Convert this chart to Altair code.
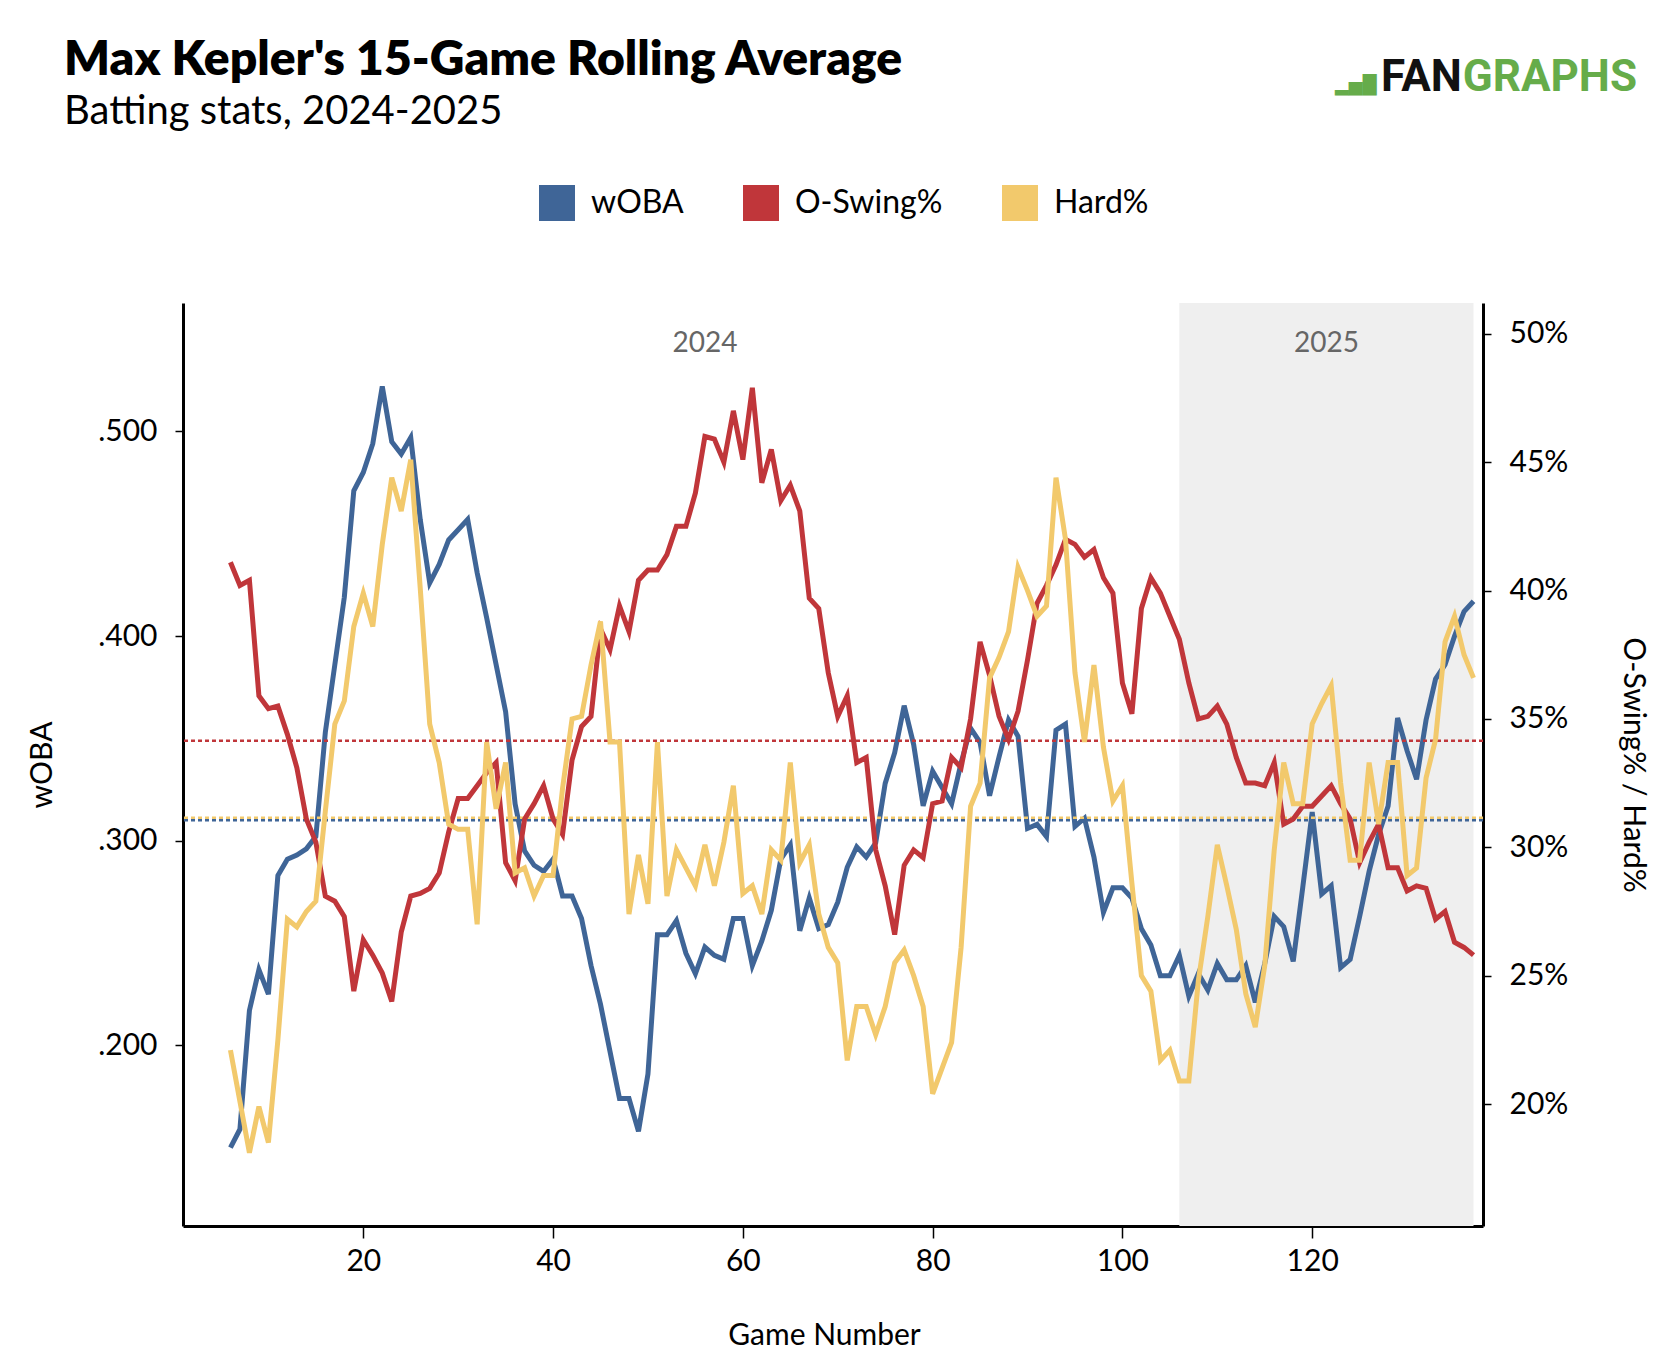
import altair as alt
import pandas as pd

# 15-game rolling values, one per game (games 6 .. 137)
games = list(range(6, 138))

woba = [
    0.150, 0.159, 0.217, 0.237, 0.225, 0.283, 0.291, 0.293, 0.296, 0.302,
    0.353, 0.386, 0.419, 0.471, 0.480, 0.494, 0.522, 0.495, 0.489, 0.497,
    0.457, 0.426, 0.435, 0.447, 0.452, 0.457, 0.431, 0.409, 0.386, 0.363,
    0.318, 0.295, 0.288, 0.285, 0.291, 0.273, 0.273, 0.262, 0.239, 0.220,
    0.197, 0.174, 0.174, 0.158, 0.186, 0.254, 0.254, 0.261, 0.245, 0.235,
    0.248, 0.244, 0.242, 0.262, 0.262, 0.239, 0.251, 0.266, 0.291, 0.298,
    0.256, 0.272, 0.257, 0.259, 0.270, 0.287, 0.297, 0.292, 0.299, 0.328,
    0.343, 0.366, 0.347, 0.317, 0.334, 0.326, 0.318, 0.338, 0.355, 0.348,
    0.322, 0.341, 0.359, 0.351, 0.306, 0.308, 0.302, 0.354, 0.357, 0.307,
    0.311, 0.292, 0.265, 0.277, 0.277, 0.272, 0.257, 0.249, 0.234, 0.234,
    0.244, 0.224, 0.235, 0.227, 0.240, 0.232, 0.232, 0.239, 0.221, 0.240,
    0.263, 0.258, 0.241, 0.277, 0.314, 0.274, 0.278, 0.238, 0.242, 0.263,
    0.285, 0.303, 0.317, 0.360, 0.344, 0.330, 0.359, 0.379, 0.386, 0.400,
    0.412, 0.417,
]

o_swing = [
    41.1, 40.2, 40.4, 35.9, 35.4, 35.5, 34.4, 33.1, 31.1, 30.2,
    28.1, 27.9, 27.3, 24.4, 26.4, 25.8, 25.1, 24.0, 26.7, 28.1,
    28.2, 28.4, 29.0, 30.6, 31.9, 31.9, 32.4, 32.9, 33.3, 29.4,
    28.7, 31.1, 31.7, 32.4, 31.1, 30.5, 33.4, 34.7, 35.1, 38.5,
    37.7, 39.4, 38.4, 40.4, 40.8, 40.8, 41.4, 42.5, 42.5, 43.8,
    46.0, 45.9, 45.0, 47.0, 45.1, 47.9, 44.2, 45.5, 43.5, 44.1,
    43.1, 39.7, 39.3, 36.8, 35.1, 35.9, 33.3, 33.5, 29.9, 28.5,
    26.6, 29.3, 29.9, 29.6, 31.7, 31.8, 33.5, 33.1, 35.0, 38.0,
    36.7, 35.1, 34.2, 35.3, 37.3, 39.5, 40.2, 41.0, 42.0, 41.8,
    41.3, 41.6, 40.5, 39.9, 36.4, 35.2, 39.3, 40.5, 39.9, 39.0,
    38.1, 36.4, 35.0, 35.1, 35.5, 34.8, 33.5, 32.5, 32.5, 32.4,
    33.3, 30.9, 31.1, 31.6, 31.6, 32.0, 32.4, 31.7, 31.1, 29.4,
    30.2, 30.9, 29.2, 29.2, 28.3, 28.5, 28.4, 27.2, 27.5, 26.3,
    26.1, 25.8,
]

hard = [
    22.1, 20.1, 18.1, 19.9, 18.5, 22.5, 27.2, 26.9, 27.5, 27.9,
    31.4, 34.8, 35.7, 38.6, 39.9, 38.6, 41.8, 44.4, 43.1, 45.1,
    40.1, 34.8, 33.3, 30.9, 30.7, 30.7, 27.0, 34.1, 31.5, 33.3,
    29.0, 29.2, 28.1, 28.9, 28.9, 32.3, 35.0, 35.1, 37.1, 38.8,
    34.1, 34.1, 27.4, 29.7, 27.8, 34.1, 28.1, 29.9, 29.2, 28.5,
    30.1, 28.5, 30.2, 32.4, 28.2, 28.5, 27.4, 29.9, 29.5, 33.3,
    29.4, 30.1, 27.4, 26.1, 25.5, 21.7, 23.8, 23.8, 22.7, 23.8,
    25.5, 26.0, 25.0, 23.8, 20.4, 21.4, 22.4, 26.1, 31.6, 32.5,
    36.6, 37.4, 38.4, 40.9, 40.0, 39.0, 39.4, 44.4, 42.0, 36.8,
    34.1, 37.1, 33.9, 31.8, 32.4, 28.6, 25.0, 24.4, 21.7, 22.1,
    20.9, 20.9, 24.8, 27.3, 30.1, 28.5, 26.8, 24.3, 23.0, 25.4,
    29.9, 33.3, 31.7, 31.7, 34.8, 35.6, 36.3, 32.5, 29.5, 29.5,
    33.3, 30.9, 33.3, 33.3, 28.9, 29.2, 32.7, 34.2, 38.0, 39.0,
    37.5, 36.6,
]

# league-average reference lines
avg_woba = 0.310
avg_o_swing = 34.15
avg_hard = 31.15

# seasons (game ranges)
season_labels = ["2024", "2025"]
season_start = [6, 106]
season_end = [106, 137]

metrics = ["wOBA", "O-Swing%", "Hard%"]
colors = ["#3f6597", "#c0363a", "#f2c96c"]

title_text = "Max Kepler's 15-Game Rolling Average"
subtitle_text = "Batting stats, 2024-2025"

FONT = "Lato"

n = len(games)
woba_df = pd.DataFrame({"game": games, "value": woba, "metric": "wOBA"})
pct_df = pd.DataFrame({
    "game": games + games,
    "value": o_swing + hard,
    "metric": ["O-Swing%"] * n + ["Hard%"] * n,
})
woba_avg_df = pd.DataFrame({"metric": ["wOBA"], "avg": [avg_woba]})
pct_avg_df = pd.DataFrame({"metric": ["O-Swing%", "Hard%"], "avg": [avg_o_swing, avg_hard]})
season_df = pd.DataFrame({"label": season_labels, "start": season_start, "end": season_end})
season_df["mid"] = (season_df["start"] + season_df["end"]) / 2
legend_df = pd.DataFrame({"metric": metrics})
header_df = pd.DataFrame({"kind": ["title", "subtitle"], "text": [title_text, subtitle_text]})
logo_df = pd.DataFrame({"part": ["FAN", "GRAPHS"]})

color_scale = alt.Scale(domain=metrics, range=colors)

x_scale = alt.Scale(domain=[1, 138], nice=False, zero=False)
x_axis = alt.Axis(
    values=[20, 40, 60, 80, 100, 120], title="Game Number",
    tickSize=12, labelPadding=8, titlePadding=44, titleX=641,
)

left_scale = alt.Scale(domain=[0.1117, 0.5628], nice=False, zero=False)
left_axis = alt.Axis(
    orient="left", values=[0.2, 0.3, 0.4, 0.5],
    labelExpr="substring(format(datum.value, '.3f'), 1)",
    title="wOBA", tickSize=8, labelPadding=18, titlePadding=40,
)
right_scale = alt.Scale(domain=[15.25, 51.2], nice=False, zero=False)
right_axis = alt.Axis(
    orient="right", values=[20, 25, 30, 35, 40, 45, 50],
    labelExpr="datum.value + '%'",
    title="O-Swing% / Hard%", tickSize=8, labelPadding=18, titlePadding=50,
)

# 2025 shaded band
shade = alt.Chart(season_df).transform_filter(
    alt.datum.label == "2025"
).mark_rect(color="#efefef").encode(
    x=alt.X("start:Q", scale=x_scale, axis=x_axis),
    x2="end:Q",
)

# invisible squares that carry the legend
legend_marks = alt.Chart(legend_df).mark_square(opacity=0, filled=True).encode(
    color=alt.Color(
        "metric:N", scale=color_scale,
        legend=alt.Legend(
            title=None, orient="none", legendX=356, legendY=-118,
            direction="horizontal", symbolType="square", symbolSize=1296,
            symbolOpacity=1, symbolStrokeWidth=0, labelFont=FONT,
            labelFontSize=32, labelColor="#000000", labelOffset=16,
            columnPadding=59, padding=0,
        ),
    )
)

woba_rule = alt.Chart(woba_avg_df).mark_rule(strokeDash=[4, 3], strokeWidth=2.5).encode(
    y=alt.Y("avg:Q", scale=left_scale, axis=left_axis),
    color=alt.Color("metric:N", scale=color_scale, legend=None),
)
woba_line = alt.Chart(woba_df).mark_line(strokeWidth=5, strokeJoin="miter").encode(
    x=alt.X("game:Q", scale=x_scale, axis=x_axis),
    y=alt.Y("value:Q", scale=left_scale, axis=left_axis),
    color=alt.Color("metric:N", scale=color_scale, legend=None),
)
left = alt.layer(woba_rule, woba_line)

pct_rules = alt.Chart(pct_avg_df).mark_rule(strokeDash=[4, 3], strokeWidth=2.5).encode(
    y=alt.Y("avg:Q", scale=right_scale, axis=right_axis),
    color=alt.Color("metric:N", scale=color_scale, legend=None),
)
pct_lines = alt.Chart(pct_df).mark_line(strokeWidth=5, strokeJoin="miter").encode(
    x=alt.X("game:Q", scale=x_scale, axis=x_axis),
    y=alt.Y("value:Q", scale=right_scale, axis=right_axis),
    color=alt.Color("metric:N", scale=color_scale, legend=None),
    detail="metric:N",
)
right = alt.layer(pct_rules, pct_lines)

year_text = alt.Chart(season_df).mark_text(
    font=FONT, fontSize=28, color="#666666", baseline="middle"
).encode(
    x=alt.X("mid:Q", scale=x_scale, axis=x_axis),
    y=alt.value(41),
    text="label:N",
)

# header text (placed relative to the plot's top-left corner)
title_mark = alt.Chart(header_df).transform_filter(alt.datum.kind == "title").mark_text(
    font=FONT, fontSize=48, fontWeight=800, color="#000000",
    align="left", baseline="alphabetic",
).encode(x=alt.value(-119), y=alt.value(-228), text="text:N")
subtitle_mark = alt.Chart(header_df).transform_filter(alt.datum.kind == "subtitle").mark_text(
    font=FONT, fontSize=40, color="#000000", align="left", baseline="alphabetic",
).encode(x=alt.value(-119), y=alt.value(-179), text="text:N")

logo_fan = alt.Chart(logo_df).transform_filter(alt.datum.part == "FAN").mark_text(
    font="Roboto", fontWeight="bold", fontSize=44,
    color="#111111", align="left", baseline="alphabetic",
).encode(x=alt.value(1198), y=alt.value(-212), text="part:N")
logo_graphs = alt.Chart(logo_df).transform_filter(alt.datum.part == "GRAPHS").mark_text(
    font="Roboto", fontWeight="bold", fontSize=44,
    color="#66ac4a", align="right", baseline="alphabetic",
).encode(x=alt.value(1454), y=alt.value(-212), text="part:N")
logo_bars = alt.Chart(logo_df).transform_filter(alt.datum.part == "FAN").mark_text(
    text="▂▅█", font="DejaVu Sans", fontSize=18,
    color="#66ac4a", align="left", baseline="alphabetic",
).encode(x=alt.value(1152), y=alt.value(-212))

chart = alt.layer(
    shade, legend_marks, left, right, year_text,
    title_mark, subtitle_mark, logo_bars, logo_fan, logo_graphs,
).resolve_scale(
    y="independent"
).properties(
    width=1300,
    height=923,
    autosize=alt.AutoSizeParams(type="none"),
    padding={"left": 175, "top": 295, "right": 187, "bottom": 130},
).configure_view(
    stroke=None
).configure_axis(
    grid=False, domainColor="#000000", domainWidth=3, tickColor="#000000",
    tickWidth=1.5, labelFont=FONT, labelFontSize=30, labelColor="#000000",
    titleFont=FONT, titleFontSize=30, titleFontWeight="normal", titleColor="#000000",
)

chart.save("out.html", embed_options={"renderer": "svg", "actions": False})
